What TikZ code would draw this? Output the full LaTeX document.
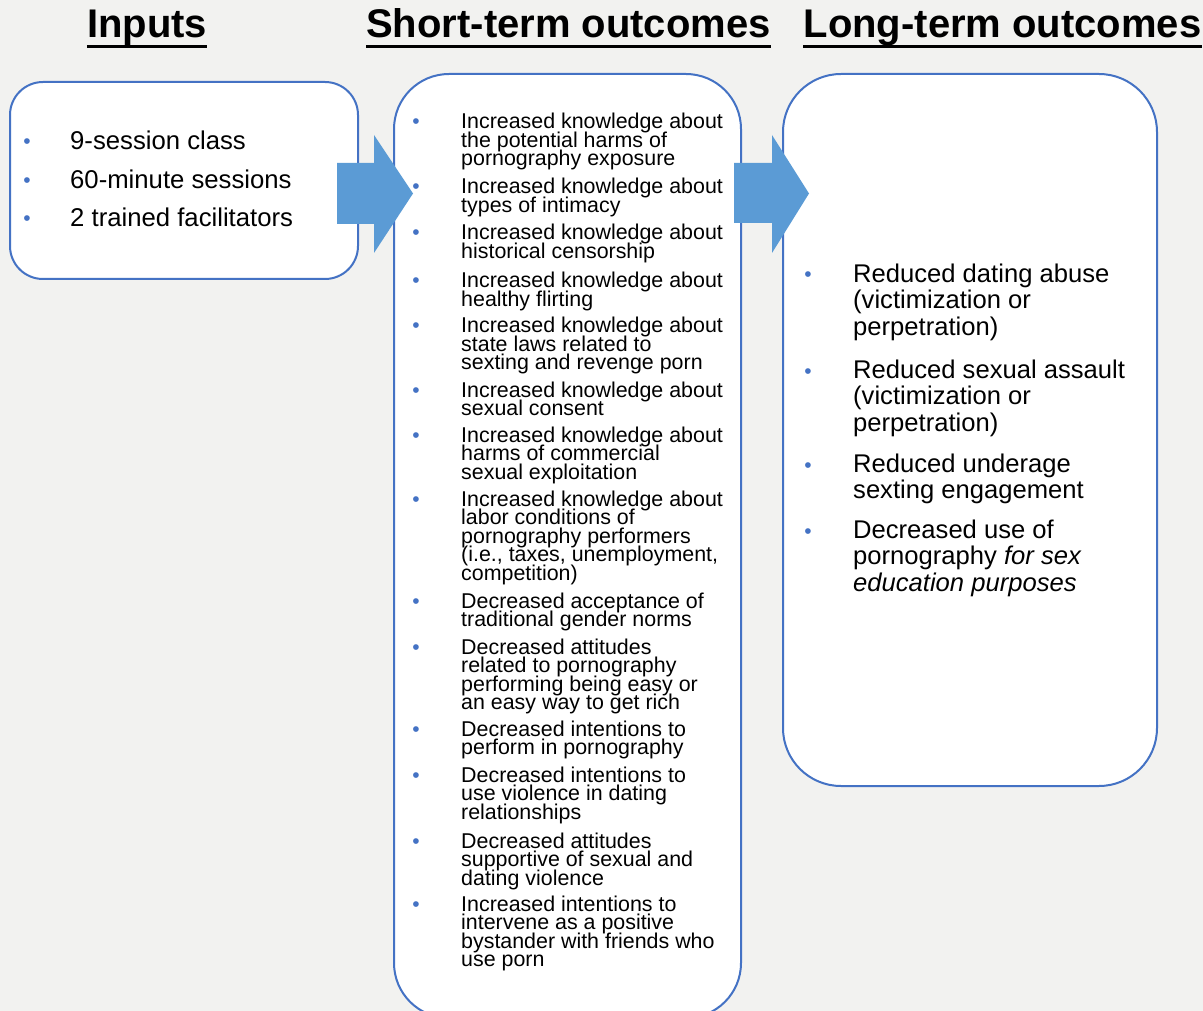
\documentclass[tikz,border=0pt]{standalone}
\usepackage{fontspec}
\setmainfont{Liberation Sans}
\definecolor{boxblue}{HTML}{4472C4}
\definecolor{arrowblue}{HTML}{5B9BD5}
\definecolor{bggray}{HTML}{F2F2F0}
\newcommand\tightlines{\lineskiplimit=-100pt\relax}
\begin{document}
\begin{tikzpicture}[x=1pt,y=-1pt,
  box/.style={draw=boxblue,line width=2pt,fill=white},
  head/.style={inner sep=0,anchor=base,font=\fontsize{40}{48}\selectfont\bfseries},
  bul/.style={inner sep=0,anchor=base,text=boxblue,font=\fontsize{21}{21}\selectfont},
  initem/.style={inner sep=0,anchor=base west,align=left,font=\fontsize{25.7}{29}\selectfont},
  miditem/.style={inner sep=0,anchor=base west,align=left,font={\fontsize{21.4}{18.5}\selectfont\tightlines}},
  outitem/.style={inner sep=0,anchor=base west,align=left,font={\fontsize{25.6}{26.8}\selectfont\tightlines}}]
  \useasboundingbox (0,0) rectangle (1203,1011);
  \fill[bggray] (0,0) rectangle (1203,1011);

  % headings
  \node[head] (hin) at (147,38) {Inputs};
  \node[head] (hshort) at (568.5,38) {Short-term outcomes};
  \node[head] (hlong) at (1002.5,38) {Long-term outcomes};
  \foreach \h in {hin,hshort,hlong}
    \draw[line width=2.5pt] ([yshift=-8.5pt]\h.base west) -- ([yshift=-8.5pt]\h.base east);

  % boxes
  \draw[box,rounded corners=33pt] (10,82) rectangle (358,279);
  \draw[box,rounded corners=55pt] (394,74) rectangle (741,1018);
  \draw[box,rounded corners=58pt] (783,74) rectangle (1157,786);

  % block arrows
  \fill[arrowblue] (337,163) -- (374,163) -- (374,135) -- (413,193.5) -- (374,253) -- (374,224) -- (337,224) -- cycle;
  \fill[arrowblue] (734,163) -- (772,163) -- (772,135) -- (809,193.5) -- (772,253) -- (772,223) -- (734,223) -- cycle;

  % inputs
  \foreach \n/\y/\txt in {1/150/{9-session class},2/189/{60-minute sessions},3/227/{2 trained facilitators}} {
    \node[bul] (ib\n) at (27,\y-1) {\textbullet};
    \node[initem] (ii\n) at (70,\y) {\txt};
  }

  % short-term outcomes (y = first baseline, k = lines)
  \foreach \n/\y/\k/\txt in {
    1/129/3/{Increased knowledge about\\the potential harms of\\pornography exposure},
    2/194/2/{Increased knowledge about\\types of intimacy},
    3/240/2/{Increased knowledge about\\historical censorship},
    4/288/2/{Increased knowledge about\\healthy flirting},
    5/333/3/{Increased knowledge about\\state laws related to\\sexting and revenge porn},
    6/397/2/{Increased knowledge about\\sexual consent},
    7/442/3/{Increased knowledge about\\harms of commercial\\sexual exploitation},
    8/506/5/{Increased knowledge about\\labor conditions of\\pornography performers\\(i.e., taxes, unemployment,\\competition)},
    9/608/2/{Decreased acceptance of\\traditional gender norms},
    10/654/4/{Decreased attitudes\\related to pornography\\performing being easy or\\an easy way to get rich},
    11/736/2/{Decreased intentions to\\perform in pornography},
    12/782/3/{Decreased intentions to\\use violence in dating\\relationships},
    13/848/3/{Decreased attitudes\\supportive of sexual and\\dating violence},
    14/911/4/{Increased intentions to\\intervene as a positive\\bystander with friends who\\use porn}} {
    \node[bul] (sb\n) at (416,\y) {\textbullet};
    \node[miditem] (si\n) at (461,{\y+(\k-1)*18.5}) {\txt};
  }

  % long-term outcomes
  \foreach \n/\y/\k/\txt in {
    1/282/3/{Reduced dating abuse\\(victimization or\\perpetration)},
    2/378/3/{Reduced sexual assault\\(victimization or\\perpetration)},
    3/472/2/{Reduced underage\\sexting engagement},
    4/538/3/{Decreased use of\\pornography \textit{for sex}\\\textit{education purposes}}} {
    \node[bul] (lb\n) at (808,\y) {\textbullet};
    \node[outitem] (li\n) at (853,{\y+(\k-1)*26.8}) {\txt};
  }
\end{tikzpicture}
\end{document}
